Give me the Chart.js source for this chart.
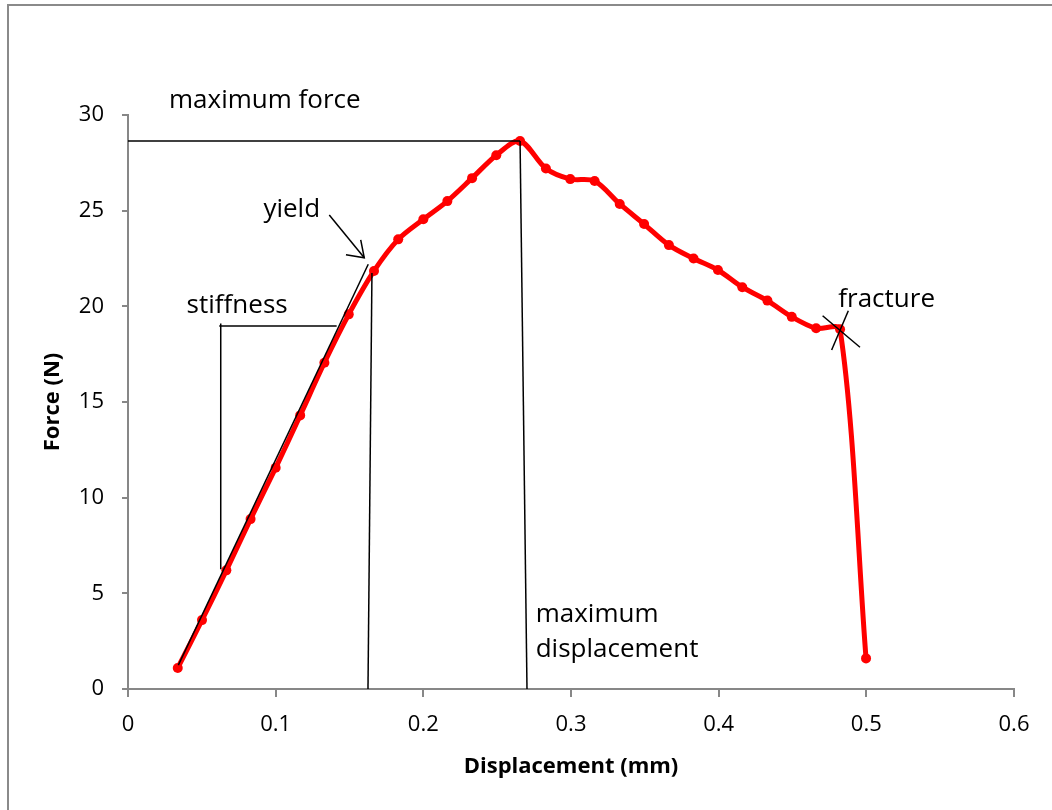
<!DOCTYPE html>
<html>
<head>
<meta charset="utf-8">
<title>Force vs Displacement</title>
<script src="https://cdn.jsdelivr.net/npm/chart.js@4.4.1/dist/chart.umd.min.js"></script>
<style>
  html, body { margin: 0; padding: 0; background: #fff; }
  #wrap { width: 1052px; height: 810px; }
</style>
</head>
<body>
<div id="wrap"><canvas id="forceChart" width="1052" height="810"></canvas></div>
<script>
"use strict";

// Test readings (mm, N)
const displacement = [
  0.0337, 0.0501, 0.0666, 0.083, 0.1, 0.1166, 0.133, 0.1495, 0.1666, 0.183,
  0.2, 0.2163, 0.233, 0.2494, 0.2655, 0.283, 0.2995, 0.316, 0.333, 0.3495,
  0.3663, 0.383, 0.3995, 0.416, 0.433, 0.4495, 0.466, 0.4822, 0.4998
];
const force = [
  1.1, 3.6, 6.2, 8.88, 11.56, 14.3, 17.05, 19.58, 21.85, 23.5,
  24.55, 25.5, 26.7, 27.9, 28.64, 27.2, 26.65, 26.55, 25.35, 24.3,
  23.2, 22.5, 21.9, 21.0, 20.3, 19.45, 18.85, 18.8, 1.6
];
const xTicks = [0, 0.1, 0.2, 0.3, 0.4, 0.5, 0.6];
const yTicks = [0, 5, 10, 15, 20, 25, 30];

// Guide lines drawn over the curve, in data units
const guides = [
  [[0, 28.64], [0.2655, 28.64]],           // maximum force
  [[0.2655, 28.64], [0.2702, 0]],          // maximum displacement
  [[0.1652, 21.74], [0.1625, -0.1]],       // yield drop line
  [[0.0341, 1.25], [0.1627, 22.2]],        // stiffness tangent
  [[0.0618, 18.97], [0.1413, 18.97]],      // stiffness triangle top
  [[0.0628, 19.1], [0.0628, 6.26]],        // stiffness triangle side
  [[0.1363, 24.77], [0.16, 22.54]],        // yield arrow shaft
  [[0.1476, 22.7], [0.16, 22.54], [0.1576, 23.47]], // arrow head
  [[0.4704, 19.51], [0.4957, 17.86]],      // fracture mark
  [[0.4878, 19.77], [0.4765, 17.72]]
];

const notes = [
  { text: "maximum force", x: 0.0278, y: 30.35 },
  { text: "yield", x: 0.0917, y: 24.65 },
  { text: "stiffness", x: 0.0397, y: 19.64 },
  { text: "fracture", x: 0.481, y: 19.98 },
  { text: "maximum", x: 0.2761, y: 3.52 },
  { text: "displacement", x: 0.2761, y: 1.69 }
];

const axisGrey = "#878787";

const guideSets = guides.map((pts) => ({
  data: pts.map(([x, y]) => ({ x, y })),
  showLine: true,
  borderColor: "#000",
  borderWidth: 1.5,
  pointRadius: 0,
  tension: 0,
  order: 0,
}));

// white page with the grey frame
const framePlugin = {
  id: "frame",
  beforeDraw(chart) {
    const ctx = chart.ctx;
    ctx.save();
    ctx.fillStyle = "#fff";
    ctx.fillRect(0, 0, chart.width, chart.height);
    ctx.strokeStyle = "#8a8a8a";
    ctx.lineWidth = 2;
    ctx.strokeRect(8, 5, 1100, 900);
    ctx.restore();
  },
};

// text labels for the guide lines
const notesPlugin = {
  id: "notes",
  afterDatasetsDraw(chart) {
    const { ctx, scales } = chart;
    ctx.save();
    ctx.font = '26px "Open Sans"';
    ctx.fillStyle = "#000";
    ctx.textAlign = "left";
    ctx.textBaseline = "alphabetic";
    notes.forEach((n) => {
      ctx.fillText(n.text, scales.x.getPixelForValue(n.x), scales.y.getPixelForValue(n.y));
    });
    ctx.restore();
  },
};

const ctx = document.getElementById("forceChart").getContext("2d");
new Chart(ctx, {
  type: "scatter",
  data: {
    datasets: [
      {
        label: "Force",
        data: displacement.map((d, i) => ({ x: d, y: force[i] })),
        showLine: true,
        borderColor: "#ff0000",
        backgroundColor: "#ff0000",
        borderWidth: 5,
        pointRadius: 5,
        pointBorderWidth: 0,
        pointBackgroundColor: "#ff0000",
        tension: 0.3,
        order: 1,
      },
      ...guideSets,
    ],
  },
  options: {
    responsive: false,
    animation: false,
    layout: { padding: { left: 36, top: 115, right: 38, bottom: 26 } },
    plugins: {
      legend: { display: false },
      tooltip: { enabled: false },
    },
    scales: {
      x: {
        type: "linear",
        min: 0,
        max: 0.6,
        afterFit: (scale) => { scale.height = 95; },
        afterBuildTicks: (scale) => { scale.ticks = xTicks.map((v) => ({ value: v })); },
        border: { display: true, color: axisGrey, width: 2 },
        grid: { drawOnChartArea: false, drawTicks: true, tickLength: 8, color: axisGrey, lineWidth: 2 },
        ticks: {
          padding: 15,
          color: "#000",
          font: { family: "Open Sans", size: 22 },
          callback: (v) => String(Number(v.toFixed(1))),
        },
        title: {
          display: true,
          text: "Displacement (mm)",
          color: "#000",
          font: { family: "Open Sans", size: 22, weight: "bold" },
        },
      },
      y: {
        type: "linear",
        min: 0,
        max: 30,
        afterFit: (scale) => { scale.width = 92; },
        afterBuildTicks: (scale) => { scale.ticks = yTicks.map((v) => ({ value: v })); },
        border: { display: true, color: axisGrey, width: 2 },
        grid: { drawOnChartArea: false, drawTicks: true, tickLength: 6, color: axisGrey, lineWidth: 2 },
        ticks: {
          padding: 18,
          color: "#000",
          font: { family: "Open Sans", size: 22 },
        },
        title: {
          display: true,
          text: "Force (N)",
          color: "#000",
          font: { family: "Open Sans", size: 22, weight: "bold" },
        },
      },
    },
  },
  plugins: [framePlugin, notesPlugin],
});
</script>
</body>
</html>
